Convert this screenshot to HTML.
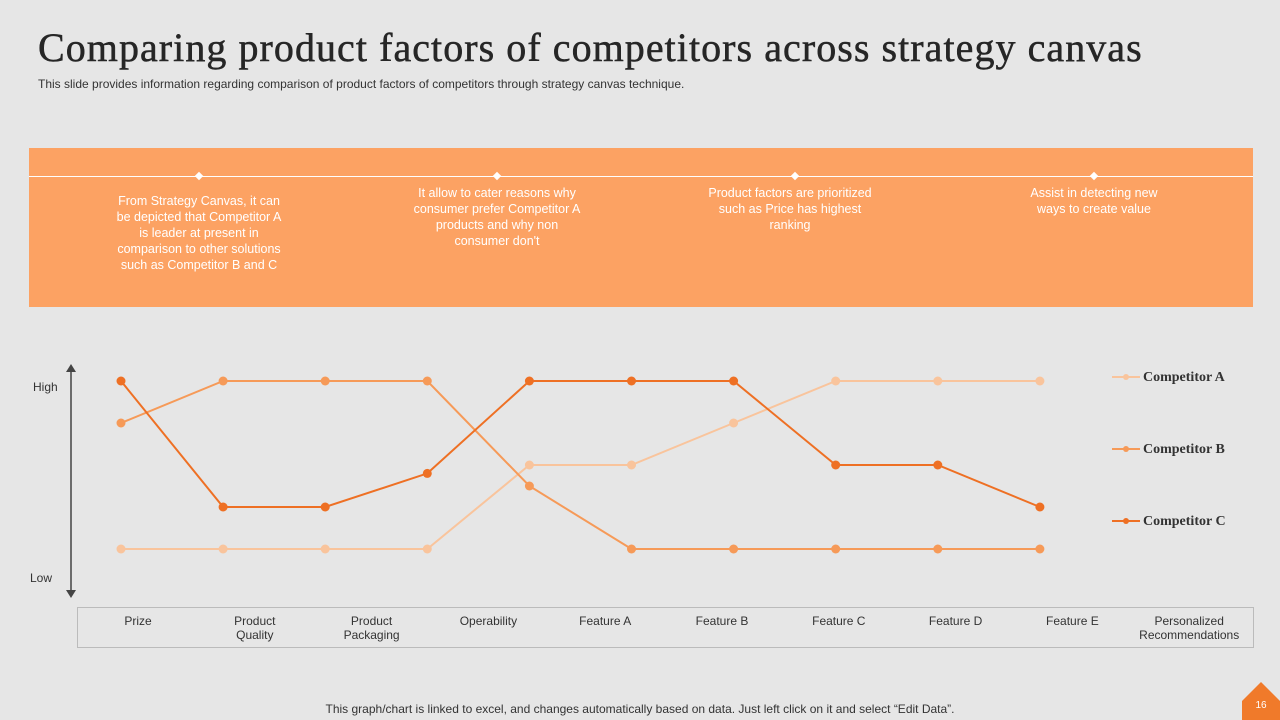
<!DOCTYPE html>
<html><head><meta charset="utf-8"><style>
body{margin:0;width:1280px;height:720px;background:#E6E6E6;font-family:"Liberation Sans",sans-serif;position:relative;overflow:hidden}
.abs{position:absolute}
h1{position:absolute;left:38px;top:24px;margin:0;font-family:"Liberation Serif",serif;font-weight:normal;font-size:40px;color:#262626;letter-spacing:1.05px;-webkit-text-stroke:0.5px #262626;white-space:nowrap}
.sub{left:38px;top:77px;font-size:12px;color:#333;white-space:nowrap}
.band{left:29px;top:148px;width:1224px;height:159px;background:#FCA263}
.note{width:180px;text-align:center;color:#fff;font-size:12.5px;line-height:16px}
.foot{left:0;width:1280px;top:702px;text-align:center;font-size:12px;color:#333}
</style></head><body>
<h1>Comparing product factors of competitors across strategy canvas</h1>
<div class="abs sub">This slide provides information regarding comparison of product factors of competitors through strategy canvas technique.</div>
<div class="abs band">
<div class="abs" style="left:0;top:28px;width:1224px;height:1px;background:#fff"></div>
<div class="abs" style="left:167px;top:25px;width:6px;height:6px;background:#fff;transform:rotate(45deg)"></div>
<div class="abs" style="left:465px;top:25px;width:6px;height:6px;background:#fff;transform:rotate(45deg)"></div>
<div class="abs" style="left:763px;top:25px;width:6px;height:6px;background:#fff;transform:rotate(45deg)"></div>
<div class="abs" style="left:1062px;top:25px;width:6px;height:6px;background:#fff;transform:rotate(45deg)"></div>
<div class="abs note" style="left:82px;top:45px;width:176px">From Strategy Canvas, it can be depicted that Competitor A is leader at present in comparison to other solutions such as Competitor B and C</div>
<div class="abs note" style="left:378px;top:37px">It allow to cater reasons why consumer prefer Competitor A products and why non consumer don't</div>
<div class="abs note" style="left:676px;top:37px;width:170px">Product factors are prioritized such as Price has highest ranking</div>
<div class="abs note" style="left:990px;top:37px;width:150px">Assist in detecting new ways to create value</div>
</div>
<svg class="abs" style="left:0;top:0" width="1280" height="720" id="chart"></svg>
<div class="abs foot">This graph/chart is linked to excel, and changes automatically based on data. Just left click on it and select “Edit Data”.</div>
<div class="abs" style="left:1242px;top:682px;width:38px;height:38px;background:#F07A2A;clip-path:polygon(50% 0,100% 50%,100% 100%,0 100%,0 50%)"><div style="color:#fff;font-size:10px;text-align:center;margin-top:18px">16</div></div>
<script>
const categories=["Prize","Product Quality","Product Packaging","Operability","Feature A","Feature B","Feature C","Feature D","Feature E","Personalized Recommendations"];
const seriesNames=["Competitor A","Competitor B","Competitor C"];
const compA=[1,1,1,1,3,3,4,5,5,5];
const compB=[4,5,5,5,2.5,1,1,1,1,1];
const compC=[5,2,2,2.8,5,5,5,3,3,2];
const colors=["#F9C49C","#F69A58","#EE7024"];
const ns="http://www.w3.org/2000/svg";
const svg=document.getElementById('chart');
const x=i=>121+i*102.1;
const y=v=>549-(v-1)*42;
function mk(t,a){const e=document.createElementNS(ns,t);for(const k in a)e.setAttribute(k,a[k]);svg.appendChild(e);return e;}
const ax=mk('line',{x1:71,y1:372,x2:71,y2:592,stroke:'#444','stroke-width':1.5});


mk('path',{d:'M66,372 L71,364 L76,372 Z',fill:'#444'});
mk('path',{d:'M66,590 L71,598 L76,590 Z',fill:'#444'});
const hi=mk('text',{x:33,y:391,'font-size':12,fill:'#333'});hi.textContent='High';


const lo=mk('text',{x:30,y:582,'font-size':12,fill:'#333'});lo.textContent='Low';


const tb=mk('rect',{x:77.5,y:607.5,width:1176,height:40,fill:'none',stroke:'#bbb'});


categories.forEach((c,i)=>{
  const cx=138+i*116.8;
  const words=c.startsWith('Feature')?[c]:c.split(' ');
  words.forEach((w,j)=>{
    const t=mk('text',{x:cx,y:625+j*14,'font-size':12,fill:'#333','text-anchor':'middle'});
    t.textContent=w;
    
    
  });
});
[compA,compB,compC].forEach((s,k)=>{
  const n=s.length;
  let d='';
  for(let i=0;i<n;i++)d+=(i?'L':'M')+x(i)+','+y(s[i]);
  const p=mk('path',{d:d,fill:'none',stroke:colors[k],'stroke-width':2});
  
  
  for(let i=0;i<n;i++){
    const c=mk('circle',{cx:x(i),cy:y(s[i]),r:4.5,fill:colors[k]});
    
    
  }
  const ly=377+k*72;
  mk('line',{x1:1112,y1:ly,x2:1140,y2:ly,stroke:colors[k],'stroke-width':2});
  mk('circle',{cx:1126,cy:ly,r:3,fill:colors[k]});
  const t=mk('text',{x:1143,y:ly+4,'font-size':14,'font-weight':'bold','font-family':'Liberation Serif,serif',fill:'#333'});
  t.textContent=seriesNames[k];
  
  
});
</script>
</body></html>
